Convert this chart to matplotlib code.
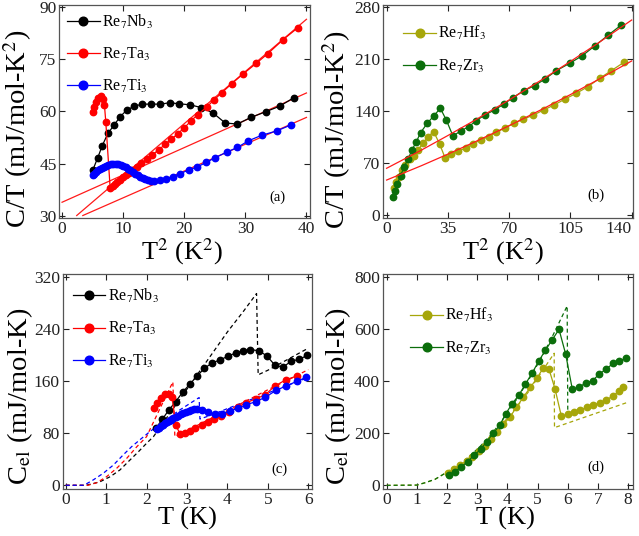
import matplotlib
matplotlib.use("Agg")
import matplotlib.pyplot as plt

plt.rcParams['font.family'] = ['Liberation Serif', 'DejaVu Serif']
plt.rcParams['mathtext.fontset'] = 'stix'

# ---- (a) C/T vs T^2 ----
nb_t2 = [5.03, 5.85, 6.56, 7.49, 8.52, 9.5, 10.6, 11.8, 13.1, 14.6, 16.1, 17.6, 19.2,
         21.0, 22.8, 24.7, 26.7, 28.7, 30.9, 33.3, 35.6, 37.9]
nb_ct = [43.2, 46.8, 50.1, 53.7, 56.1, 58.5, 60.4, 61.5, 62.1, 62.1, 62.1, 62.5, 62.2,
         61.9, 61.1, 59.6, 56.7, 56.4, 58.3, 59.9, 61.5, 63.9]
ta_t2 = [5.03, 5.3, 5.57, 5.95, 6.34, 6.67, 6.94, 7.16, 7.87, 8.3, 8.69, 9.07, 9.5, 9.95,
         10.4, 10.9, 11.5, 12.2, 13.0, 13.9, 14.8, 15.8, 16.9, 17.9, 18.9, 20.0, 21.1,
         22.2, 23.7, 24.8, 26.1, 27.8, 29.6, 31.8, 33.7, 36.2, 38.6]
ta_ct = [59.9, 61.3, 62.8, 64.0, 64.4, 63.7, 61.8, 57.0, 38.2, 38.6, 39.2, 39.8, 40.5, 41.1,
         41.7, 42.3, 43.1, 44.0, 45.2, 46.3, 47.6, 49.0, 50.6, 52.0, 53.6, 55.3, 57.3,
         59.1, 61.3, 63.2, 65.3, 68.0, 70.7, 73.8, 76.6, 80.6, 84.0]
ti_t2 = [5.0, 5.3, 5.6, 5.9, 6.2, 6.5, 6.8, 7.2, 7.6, 8.0, 8.4, 8.8, 9.2, 9.6, 10.0, 10.4,
         10.8, 11.2, 11.6, 12.0, 12.4, 12.8, 13.2, 13.6, 14.0, 14.5, 15.0, 15.95, 17.0,
         18.1, 19.3, 20.7, 22.1, 23.6, 25.1, 27.0, 28.7, 30.5, 32.7, 35.1, 37.4]
ti_ct = [41.7, 42.1, 42.6, 43.1, 43.5, 43.9, 44.2, 44.5, 44.7, 44.9, 45.0, 45.0, 44.9, 44.7,
         44.4, 44.0, 43.6, 43.1, 42.6, 42.1, 41.7, 41.3, 40.9, 40.6, 40.3, 40.1, 40.0, 40.3,
         40.8, 41.3, 42.2, 43.2, 44.1, 45.4, 46.8, 48.4, 49.7, 51.6, 53.2, 54.4, 56.1]
nb_fit_x, nb_fit_y = [0, 40], [34.0, 65.3]
ta_fit_x, ta_fit_y = [2.4, 40], [30.2, 86.4]
ti_fit_x, ti_fit_y = [3.4, 40], [30.2, 58.3]

# ---- (b) C/T vs T^2 ----
hf_t2 = [4.2, 5.5, 6.9, 8.8, 10.7, 13.1, 15.6, 17.9, 20.8, 23.6, 26.9, 30.3, 33.5, 37.0,
         40.8, 45.1, 49.3, 53.7, 58.3, 62.7, 67.8, 72.7, 77.9, 83.6, 89.7, 95.6, 101.7,
         108.4, 115.0, 121.7, 128.4, 135.6]
hf_ct = [35.9, 44.8, 51.5, 60.5, 67.2, 74.9, 79.3, 87.4, 96.3, 105.2, 112.0, 95.4, 76.2,
         82.0, 86.0, 89.6, 95.4, 100.8, 105.2, 111.1, 117.3, 123.2, 128.6, 134.0, 141.1,
         147.8, 155.5, 163.6, 172.4, 183.7, 194.0, 205.2]
zr_t2 = [3.6, 4.6, 6.1, 8.0, 9.9, 12.2, 14.5, 17.0, 19.4, 23.2, 26.9, 30.7, 34.1, 37.9,
         42.3, 46.9, 51.2, 56.0, 61.7, 67.0, 72.2, 78.3, 84.6, 90.7, 97.0, 104.6, 111.8,
         118.9, 126.5, 134.1]
zr_ct = [23.8, 32.3, 41.7, 52.9, 64.1, 74.9, 87.4, 98.5, 110.6, 123.2, 133.1, 143.4, 127.7,
         106.2, 112.9, 118.7, 126.7, 134.4, 141.1, 149.2, 157.7, 167.1, 173.8, 183.2, 194.0,
         203.9, 214.1, 227.2, 241.5, 255.4]
fit_b_x = [0, 20, 35, 50, 70, 90, 105, 120, 140]
hf_fit_y = [47.0, 66.4, 81.8, 97.8, 120.0, 143.5, 161.8, 180.8, 207.0]
zr_fit_y = [62.8, 87.4, 106.8, 126.8, 154.6, 183.7, 206.3, 229.7, 262.0]

# ---- (c) Cel vs T ----
nb_t = [2.23, 2.39, 2.55, 2.72, 2.89, 3.07, 3.25, 3.43, 3.62, 3.81, 4.01, 4.20, 4.39, 4.57,
        4.77, 4.97, 5.17, 5.37, 5.57, 5.78, 5.97]
nb_cel = [87.7, 101.5, 115.8, 128.6, 143.1, 155.6, 168.1, 180.0, 188.2, 192.8, 198.4, 203.6,
          207.1, 208.7, 207.1, 199.4, 185.1, 181.5, 190.7, 194.0, 199.7]
ta_t = [2.18, 2.27, 2.36, 2.46, 2.55, 2.63, 2.72, 2.83, 2.95, 3.07, 3.21, 3.36, 3.53, 3.67,
        3.84, 4.05, 4.26, 4.47, 4.70, 4.93, 5.18, 5.45, 5.72]
ta_cel = [118.5, 127.0, 134.8, 140.0, 140.0, 136.4, 92.8, 78.9, 81.0, 83.5, 87.7, 92.8, 96.9,
          101.5, 106.6, 113.3, 121.0, 127.0, 133.0, 139.0, 153.0, 162.5, 168.2]
ti_t = [2.25, 2.30, 2.35, 2.40, 2.45, 2.50, 2.55, 2.60, 2.66, 2.72, 2.78, 2.84, 2.90, 2.97,
        3.04, 3.11, 3.18, 3.25, 3.36, 3.53, 3.69, 3.86, 4.06, 4.26, 4.47, 4.70, 4.94, 5.20,
        5.45, 5.72, 5.94]
ti_cel = [86.2, 88.5, 90.8, 93.0, 95.2, 97.3, 99.3, 101.2, 103.3, 105.3, 107.2, 109.0, 110.7,
          112.5, 114.2, 115.7, 117.0, 117.8, 116.5, 112.3, 109.7, 109.7, 114.5, 118.5, 124.0,
          128.6, 135.5, 146.0, 152.8, 160.0, 166.0]
nb_bcs_t = [0, 0.5, 0.64, 0.85, 1.1, 1.34, 1.59, 1.8, 2.0, 2.17, 2.5, 3.0, 3.57, 4.0, 4.4,
            4.72, 4.76, 5.0, 5.5, 6.0]
nb_bcs_c = [0, 0, 2, 5.5, 13.2, 23.5, 38.9, 51.7, 64.6, 74.8, 104, 148, 198, 236, 268,
            295, 170, 177, 194, 211]
ta_bcs_t = [0, 0.55, 0.77, 1.01, 1.26, 1.51, 1.76, 2.0, 2.3, 2.65, 2.70, 3.0, 3.5, 4.0,
            4.5, 5.0, 5.5, 6.0]
ta_bcs_c = [0, 0, 4, 13.2, 26.1, 41.5, 59.4, 74.8, 114, 159, 75, 84, 100, 115, 131, 147,
            162, 178]
ti_bcs_t = [0, 0.45, 0.68, 0.93, 1.18, 1.42, 1.63, 1.88, 2.08, 2.4, 2.8, 3.3, 3.32, 3.6,
            4.0, 4.5, 5.0, 5.5, 6.0]
ti_bcs_c = [0, 0, 8.2, 18.5, 31.2, 46.6, 59.4, 72.3, 82.5, 97, 115, 135, 102, 108, 118,
            130, 142, 154, 166]

# ---- (d) Cel vs T ----
hf_t = [2.04, 2.23, 2.43, 2.65, 2.83, 3.06, 3.25, 3.45, 3.67, 3.87, 4.08, 4.30, 4.52, 4.76,
        4.98, 5.19, 5.38, 5.58, 5.79, 6.00, 6.20, 6.42, 6.64, 6.84, 7.06, 7.28, 7.50, 7.70,
        7.84]
hf_cel = [48.5, 62.7, 78, 94.6, 110, 133, 151, 177, 206, 234.6, 262, 300, 338, 377, 412,
          452, 446, 370, 265, 273, 283, 290, 300, 309, 318, 328, 345, 362, 378]
zr_t = [2.06, 2.26, 2.48, 2.68, 2.90, 3.12, 3.31, 3.53, 3.75, 3.94, 4.15, 4.38, 4.60, 4.82,
        5.04, 5.26, 5.48, 5.71, 5.93, 6.15, 6.37, 6.60, 6.82, 7.04, 7.26, 7.50, 7.70, 7.92]
zr_cel = [39.6, 52.4, 71.5, 90.8, 116.5, 138.5, 167.7, 200, 231.9, 274, 312.7, 347, 390,
          432, 478, 520, 558.8, 600, 505, 370, 377, 394.6, 402, 428, 446, 469, 479, 488]
hf_bcs_t = [0, 1.0, 1.27, 1.6, 1.93, 2.3, 2.7, 3.1, 3.5, 3.9, 4.3, 4.7, 5.1, 5.55, 5.56, 8.0]
hf_bcs_c = [0, 1, 10, 23, 46, 72, 105, 145, 190, 245, 300, 360, 430, 508, 222, 320]
zr_bcs_t = [0, 1.0, 1.27, 1.6, 1.93, 2.3, 2.7, 3.1, 3.5, 3.9, 4.3, 4.7, 5.1, 5.5, 5.98, 6.0]
zr_bcs_c = [0, 1, 10, 23, 46, 72, 107, 150, 200, 262, 330, 405, 485, 575, 690, 290]

OLIVE = '#a6a60a'
GREEN = '#0b6e0b'
FIT = '#ff1a1a'
MS = 4.6
DASH = (3.2, 2.4)
XL, YL = 19, 20.5


def style(ax, xlim, ylim, xticks, yticks):
    ax.set_xlim(xlim)
    ax.set_ylim(ylim)
    ax.set_xticks(xticks)
    ax.set_yticks(yticks)
    ax.tick_params(direction='in', top=True, right=True, length=4, width=0.8,
                   labelsize=12.5, pad=2, colors='#222222')
    for s in ax.spines.values():
        s.set_linewidth(0.9)
        s.set_color('#555555')


def data(ax, x, y, c, label):
    ax.plot(x, y, '-o', color=c, mec=c, mfc=c, ms=MS, lw=0.9, label=label)


def legend(ax, x, y):
    ax.legend(loc='upper left', bbox_to_anchor=(x, y), frameon=False, fontsize=11.5,
              handlelength=2.05, handletextpad=0.15, labelspacing=0.95, borderaxespad=0,
              markerscale=1.35, borderpad=0)


fig = plt.figure(figsize=(6.39, 5.36), dpi=100)
ax_a = fig.add_axes([0.0928, 0.5927, 0.3925, 0.398])
ax_b = fig.add_axes([0.5998, 0.5927, 0.3912, 0.398])
ax_c = fig.add_axes([0.0981, 0.0877, 0.3897, 0.401])
ax_d = fig.add_axes([0.5989, 0.0877, 0.3912, 0.401])

# (a)
ax_a.plot(nb_fit_x, nb_fit_y, color=FIT, lw=0.9)
ax_a.plot(ta_fit_x, ta_fit_y, color=FIT, lw=0.9)
ax_a.plot(ti_fit_x, ti_fit_y, color=FIT, lw=0.9)
data(ax_a, nb_t2, nb_ct, 'black', r'Re$_7$Nb$_3$')
data(ax_a, ta_t2, ta_ct, 'red', r'Re$_7$Ta$_3$')
data(ax_a, ti_t2, ti_ct, 'blue', r'Re$_7$Ti$_3$')
style(ax_a, (-0.45, 40.6), (29.4, 90.5), range(0, 41, 10), range(30, 91, 15))
legend(ax_a, 0.03, 0.965)
ax_a.text(35.2, 35.5, '(a)', fontsize=10.5, ha='center', va='center')
ax_a.set_xlabel(r'T$^2$ (K$^2$)', fontsize=XL)
ax_a.set_ylabel(r'C/T (mJ/mol-K$^2$)', fontsize=YL)
ax_a.xaxis.set_label_coords(0.49, -0.085)
ax_a.yaxis.set_label_coords(-0.1, 0.42)

# (b)
data(ax_b, hf_t2, hf_ct, OLIVE, r'Re$_7$Hf$_3$')
data(ax_b, zr_t2, zr_ct, GREEN, r'Re$_7$Zr$_3$')
ax_b.plot(fit_b_x, hf_fit_y, color=FIT, lw=0.9)
ax_b.plot(fit_b_x, zr_fit_y, color=FIT, lw=0.9)
style(ax_b, (-1.9, 140.9), (-4.4, 282.2), range(0, 141, 35), range(0, 281, 70))
# last tick label sits flush with the right edge of the figure
last = ax_b.get_xticklabels()[-1]
last.set_horizontalalignment('right')
last.set_x(last.get_position()[0] + 1.5)
legend(ax_b, 0.08, 0.91)
ax_b.text(119.8, 27, '(b)', fontsize=10.5, ha='center', va='center')
ax_b.set_xlabel(r'T$^2$ (K$^2$)', fontsize=XL)
ax_b.set_ylabel(r'C/T (mJ/mol-K$^2$)', fontsize=YL)
ax_b.xaxis.set_label_coords(0.477, -0.085)
ax_b.yaxis.set_label_coords(-0.12, 0.414)

# (c)
ax_c.plot(nb_bcs_t, nb_bcs_c, '--', color='black', lw=0.9, dashes=DASH)
ax_c.plot(ta_bcs_t, ta_bcs_c, '--', color='red', lw=0.9, dashes=DASH)
ax_c.plot(ti_bcs_t, ti_bcs_c, '--', color='blue', lw=0.9, dashes=DASH)
data(ax_c, nb_t, nb_cel, 'black', r'Re$_7$Nb$_3$')
data(ax_c, ta_t, ta_cel, 'red', r'Re$_7$Ta$_3$')
data(ax_c, ti_t, ti_cel, 'blue', r'Re$_7$Ti$_3$')
style(ax_c, (-0.074, 6.084), (-5.7, 325), range(0, 7), range(0, 321, 80))
legend(ax_c, 0.04, 0.94)
ax_c.text(5.28, 24.6, '(c)', fontsize=10.5, ha='center', va='center')
ax_c.set_xlabel('T (K)', fontsize=XL)
ax_c.set_ylabel(r'C$_{\rm el}$ (mJ/mol-K)', fontsize=YL)
ax_c.xaxis.set_label_coords(0.5, -0.082)
ax_c.yaxis.set_label_coords(-0.11, 0.43)

# (d)
ax_d.plot(hf_bcs_t, hf_bcs_c, '--', color=OLIVE, lw=0.9, dashes=DASH)
ax_d.plot(zr_bcs_t, zr_bcs_c, '--', color=GREEN, lw=0.9, dashes=DASH)
data(ax_d, hf_t, hf_cel, OLIVE, r'Re$_7$Hf$_3$')
data(ax_d, zr_t, zr_cel, GREEN, r'Re$_7$Zr$_3$')
style(ax_d, (-0.13, 8.15), (-14, 812.7), range(0, 9), range(0, 801, 200))
legend(ax_d, 0.11, 0.85)
ax_d.text(6.93, 69, '(d)', fontsize=10.5, ha='center', va='center')
ax_d.set_xlabel('T (K)', fontsize=XL)
ax_d.set_ylabel(r'C$_{\rm el}$ (mJ/mol-K)', fontsize=YL)
ax_d.xaxis.set_label_coords(0.49, -0.082)
ax_d.yaxis.set_label_coords(-0.118, 0.43)

fig.savefig('out.png', dpi=100)
